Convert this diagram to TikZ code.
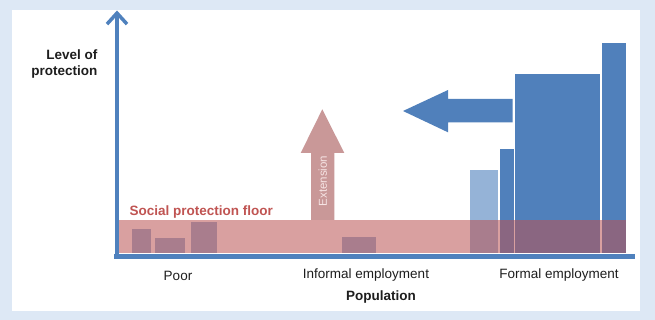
\documentclass[tikz,border=0pt]{standalone}
\usepackage{fontspec}
\setmainfont{Liberation Sans}
\usetikzlibrary{arrows.meta}
\definecolor{bgblue}{RGB}{221,232,245}
\definecolor{axisblue}{RGB}{79,129,189}
\definecolor{barblue}{RGB}{80,128,187}
\definecolor{lightbar}{RGB}{149,179,215}
\definecolor{floorred}{RGB}{186,82,82}
\definecolor{extpink}{RGB}{201,152,152}
\definecolor{labelred}{RGB}{192,84,82}
\definecolor{txt}{RGB}{30,30,30}
\definecolor{exttext}{RGB}{246,228,228}
\begin{document}
\begin{tikzpicture}[x=1pt,y=-1pt,
  lbl/.style={font=\fontsize{13.5}{16}\selectfont, text=txt, inner sep=0pt},
  boldlbl/.style={lbl, font=\fontsize{13.5}{16}\selectfont\bfseries},
  smallbar/.style={fill=lightbar},
  bigbar/.style={fill=barblue},
  axisline/.style={draw=axisblue},
  blockarrow/.style={fill=barblue},
  extarrow/.style={fill=extpink}]
\useasboundingbox (0,0) rectangle (655,320);
\fill[bgblue] (0,0) rectangle (655,320);
\fill[white] (12,10) rectangle (640,311);

% bars below the floor band
\fill[smallbar] (131.7,229) rectangle (151,253);
\fill[smallbar] (155,237.5) rectangle (185,253);
\fill[smallbar] (191.3,222) rectangle (216.7,253);
\fill[smallbar] (342,237) rectangle (376,253);
% formal employment bars
\fill[smallbar] (470,170.3) rectangle (498.3,253);
\fill[bigbar] (499.5,149.5) rectangle (513.8,253);
\fill[bigbar] (514.8,74.5) rectangle (600.4,253);
\fill[bigbar] (601.9,42.8) rectangle (626.3,253);

% floor band
\fill[floorred, opacity=0.55] (118,220) rectangle (626.3,253);

% extension arrow
\fill[extarrow] (322.3,109.3) -- (344.3,153) -- (334.3,153) -- (334.3,220)
  -- (311,220) -- (311,153) -- (300.7,153) -- cycle;
\node[rotate=90, text=exttext, font=\fontsize{11.5}{13}\selectfont, inner sep=0pt] (ext) at (322.7,181) {Extension};

% blue arrow
\fill[blockarrow] (403,111) -- (448,90) -- (448,99) -- (512.6,99) -- (512.6,122.5)
  -- (448,122.5) -- (448,132.3) -- cycle;

% axes
\coordinate (xstart) at (114,256);
\coordinate (xend) at (635,256);
\coordinate (ybottom) at (117,258.5);
\coordinate (ytop) at (117,10.5);
\draw[axisline, line width=5pt] (xstart) -- (xend);
\draw[axisline, line width=3.5pt, -{Straight Barb[length=11pt,width=20pt]}] (ybottom) -- (ytop);

% labels
\node[boldlbl, text=labelred, anchor=base west] (spf) at (129.3,215) {Social protection floor};
\node[boldlbl, align=right, anchor=east] (ylab) at (97.5,64) {Level of\\protection};
\node[lbl] (poor) at (178,275.5) {Poor};
\node[lbl] (informal) at (366,275.5) {Informal employment};
\node[lbl] (formal) at (559,275.5) {Formal employment};
\node[boldlbl] (pop) at (381,297.5) {Population};
\end{tikzpicture}
\end{document}
